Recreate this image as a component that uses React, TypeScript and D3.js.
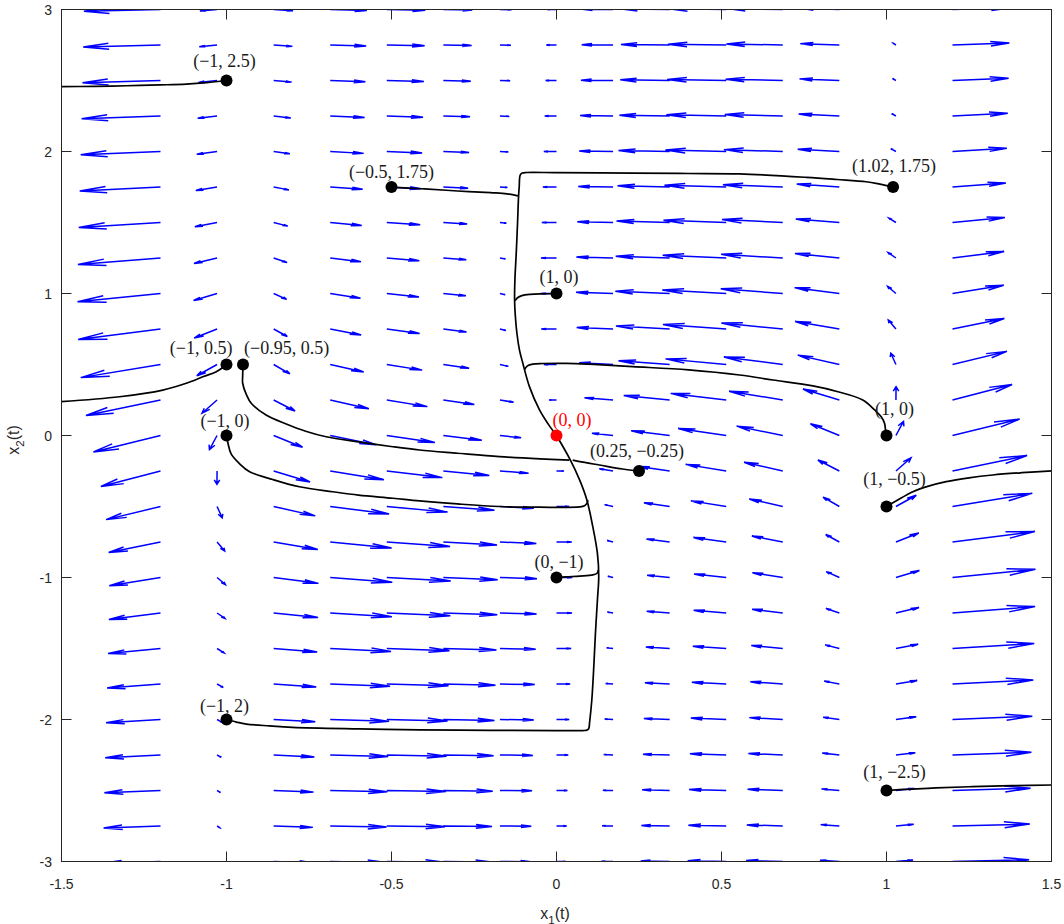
import React from "react";
import * as d3 from "d3";

// ---------- axes ----------
const xDomain = [-1.5, 1.5];
const yDomain = [-3, 3];
const xTicks = [-1.5, -1, -0.5, 0, 0.5, 1, 1.5];
const yTicks = [-3, -2, -1, 0, 1, 2, 3];
const xTickLabels = ["-1.5", "-1", "-0.5", "0", "0.5", "1", "1.5"];
const yTickLabels = ["-3", "-2", "-1", "0", "1", "2", "3"];

// ---------- quiver grid (x1, x2 sample points) ----------
const gridX1 = [-1.2, -1.0286, -0.8571, -0.6857, -0.5143, -0.3429, -0.1714, 0, 0.1714, 0.3429, 0.5143, 0.6857, 0.8571, 1.0286, 1.2];
const gridX2 = [-3, -2.75, -2.5, -2.25, -2, -1.75, -1.5, -1.25, -1, -0.75, -0.5, -0.25, 0, 0.25, 0.5, 0.75, 1, 1.25, 1.5, 1.75, 2, 2.25, 2.5, 2.75, 3];

// system plotted by the quiver: x1' = x1^3 - x1 - a*x2/(1+x2^2), x2' = c*x1/(1+x2^2)
const driftGain = 0.25;
const couplingGain = 0.25;
const arrowScale = 0.385;

// ---------- trajectories ----------
const trajA = [[-1, 2.5], [-1.06, 2.485], [-1.122, 2.475], [-1.2, 2.469], [-1.304, 2.463], [-1.4, 2.459], [-1.51, 2.456]];
const trajB = [[-0.5, 1.75], [-0.476, 1.745], [-0.4, 1.737], [-0.3, 1.722], [-0.2, 1.71], [-0.15, 1.702], [-0.117, 1.687]];
const trajC = [[1.02, 1.75], [0.98, 1.77], [0.9385, 1.787], [0.85, 1.803], [0.757, 1.818], [0.5545, 1.842], [0.4, 1.845], [0.23, 1.848], [0, 1.851], [-0.09, 1.852], [-0.104, 1.848], [-0.11, 1.834], [-0.113, 1.75], [-0.115, 1.682], [-0.118, 1.5], [-0.122, 1.283], [-0.126, 1.1], [-0.127, 0.954], [-0.125, 0.85], [-0.12, 0.72], [-0.112, 0.6], [-0.102, 0.5085], [-0.082, 0.344], [-0.0515, 0.18], [-0.025, 0.08], [0, 0]];
const trajD = [[0, 1], [-0.04, 0.998], [-0.08, 0.994], [-0.105, 0.985], [-0.118, 0.97], [-0.125, 0.95]];
const trajE = [[1, 0], [0.997, 0.04], [0.994, 0.086], [0.984, 0.132], [0.964, 0.18], [0.928, 0.25], [0.85, 0.31], [0.777, 0.349], [0.656, 0.391], [0.555, 0.426], [0.4, 0.462], [0.231, 0.485], [0.1, 0.502], [0.029, 0.508], [-0.04, 0.507], [-0.072, 0.503], [-0.088, 0.49], [-0.097, 0.465]];
const trajF = [[-1, 0.5], [-1.031, 0.449], [-1.07, 0.415], [-1.122, 0.368], [-1.193, 0.32], [-1.324, 0.273], [-1.51, 0.237]];
const trajG = [[-0.95, 0.5], [-0.951, 0.42], [-0.951, 0.368], [-0.94, 0.29], [-0.925, 0.227], [-0.88, 0.144], [-0.819, 0.081], [-0.76, 0.03], [-0.698, -0.009], [-0.6, -0.045], [-0.496, -0.079], [-0.415, -0.102], [-0.3, -0.125], [-0.173, -0.149], [-0.05, -0.165], [0.039, -0.173]];
const trajH = [[-1, 0], [-0.995, -0.06], [-0.986, -0.13], [-0.96, -0.2], [-0.93, -0.255], [-0.86, -0.31], [-0.779, -0.361], [-0.678, -0.396], [-0.6, -0.42], [-0.496, -0.442], [-0.415, -0.461], [-0.3, -0.482], [-0.173, -0.5], [-0.05, -0.505], [0.07, -0.503], [0.085, -0.495], [0.093, -0.475], [0.095, -0.455]];
const trajI = [[0.25, -0.25], [0.2, -0.236], [0.13, -0.208], [0.08, -0.188], [0.049, -0.173]];
const trajJ = [[0, -1], [0.03, -0.995], [0.07, -0.99], [0.11, -0.982], [0.123, -0.97], [0.127, -0.947]];
const trajK = [[-1, -2], [-0.97, -2.018], [-0.94, -2.032], [-0.87, -2.045], [-0.8, -2.055], [-0.6, -2.066], [-0.415, -2.073], [-0.2, -2.076], [0, -2.078], [0.08, -2.078], [0.093, -2.074], [0.098, -2.062], [0.1, -2.027], [0.107, -1.863], [0.113, -1.628], [0.118, -1.393], [0.124, -1.158], [0.128, -0.994], [0.124, -0.83], [0.11, -0.642], [0.092, -0.454], [0.07, -0.313], [0.039, -0.16], [0, 0]];
const trajL = [[1, -0.5], [1.03, -0.46], [1.08, -0.396], [1.13, -0.355], [1.181, -0.325], [1.25, -0.298], [1.322, -0.278], [1.41, -0.262], [1.51, -0.248]];
const trajM = [[1, -2.5], [1.03, -2.495], [1.06, -2.4915], [1.15, -2.482], [1.26, -2.473], [1.38, -2.466], [1.51, -2.461]];
const trajectories = [trajA, trajB, trajC, trajD, trajE, trajF, trajG, trajH, trajI, trajJ, trajK, trajL, trajM];

// ---------- initial points & labels ----------
const pointX = [-1, -0.5, 1.02, 0, -1, -0.95, -1, 0.25, 0, -1, 1, 1, 1, 0];
const pointY = [2.5, 1.75, 1.75, 1, 0.5, 0.5, 0, -0.25, -1, -2, 0, -0.5, -2.5, 0];
const pointLabels = ["(−1, 2.5)", "(−0.5, 1.75)", "(1.02, 1.75)", "(1, 0)", "(−1, 0.5)", "(−0.95, 0.5)", "(−1, 0)", "(0.25, −0.25)", "(0, −1)", "(−1, 2)", "(1, 0)", "(1, −0.5)", "(1, −2.5)", "(0, 0)"];
const labelAnchor = ["middle", "middle", "middle", "middle", "end", "start", "middle", "middle", "middle", "middle", "middle", "middle", "middle", "start"];
const labelDx = [-2, 0, 1, 2.5, 6, 1, -1.5, -2, 2.5, -2, 8, 8, 8, -4];
const labelDy = [-13.5, -9.5, -15.5, -11, -10.5, -10.5, -9, -14, -9.5, -8, -21, -21.5, -12.5, -9.5];

const W = 1064;
const H = 924;
const L = 61.5, R = 1051.5, T = 9.5, B = 861.5;

export default function App() {
  const x = d3.scaleLinear().domain(xDomain).range([L, R]);
  const y = d3.scaleLinear().domain(yDomain).range([B, T]);

  const alpha = 0.33;
  const beta = 0.27;
  const arrows: string[] = [];
  for (const gy of gridX2) {
    for (const gx of gridX1) {
      const d = 1 + gy * gy;
      const u = (gx * gx * gx - gx - (driftGain * gy) / d) * arrowScale;
      const v = ((couplingGain * gx) / d) * arrowScale;
      const tx = gx + u, ty = gy + v;
      const h1x = tx - alpha * (u + beta * v);
      const h1y = ty - alpha * (v - beta * u);
      const h2x = tx - alpha * (u - beta * v);
      const h2y = ty - alpha * (v + beta * u);
      arrows.push(
        `M${x(gx)},${y(gy)}L${x(tx)},${y(ty)}M${x(h1x)},${y(h1y)}L${x(tx)},${y(ty)}L${x(h2x)},${y(h2y)}`
      );
    }
  }

  const linePlain = d3
    .line<number[]>()
    .x((p) => x(p[0]))
    .y((p) => y(p[1]))
    .curve(d3.curveCatmullRom.alpha(0.5));

  const axisColor = "#262626";
  const tickLen = 10;

  return (
    <svg
      width={W}
      height={H}
      style={{ position: "absolute", left: 0, top: 0, background: "#fff" }}
      xmlns="http://www.w3.org/2000/svg"
    >
      <defs>
        <clipPath id="plotClip">
          <rect x={L} y={T} width={R - L} height={B - T} />
        </clipPath>
      </defs>
      <rect x={0} y={0} width={W} height={H} fill="#fff" />

      <g clipPath="url(#plotClip)">
        <path d={arrows.join("")} fill="none" stroke="#0000ff" strokeWidth={1.5} strokeLinejoin="miter" />
        {trajectories.map((t, i) => (
          <path key={i} d={linePlain(t) || ""} fill="none" stroke="#000" strokeWidth={1.7} strokeLinejoin="round" />
        ))}
      </g>

      {/* axes box and ticks */}
      <g stroke={axisColor} strokeWidth={1} fill="none">
        <rect x={L} y={T} width={R - L} height={B - T} />
        {xTicks.map((t, i) => (
          <g key={"xt" + i}>
            <line x1={x(t)} x2={x(t)} y1={B} y2={B - tickLen} />
            <line x1={x(t)} x2={x(t)} y1={T} y2={T + tickLen} />
          </g>
        ))}
        {yTicks.map((t, i) => (
          <g key={"yt" + i}>
            <line x1={L} x2={L + tickLen} y1={y(t)} y2={y(t)} />
            <line x1={R} x2={R - tickLen} y1={y(t)} y2={y(t)} />
          </g>
        ))}
      </g>

      {/* points */}
      {pointX.map((px, i) => (
        <circle
          key={"pt" + i}
          cx={x(px)}
          cy={y(pointY[i])}
          r={6}
          fill={i === pointX.length - 1 ? "#ff0000" : "#000"}
        />
      ))}

      {/* point labels */}
      {pointLabels.map((lab, i) => (
        <text
          key={"lb" + i}
          x={x(pointX[i]) + labelDx[i]}
          y={y(pointY[i]) + labelDy[i]}
          textAnchor={labelAnchor[i] as any}
          fontFamily="'Liberation Serif', 'DejaVu Serif', serif"
          fontSize={18}
          fill={i === pointLabels.length - 1 ? "#ff0000" : "#1a1a1a"}
        >
          {lab}
        </text>
      ))}

      {/* tick labels */}
      <g fontFamily="'Liberation Sans', Arial, sans-serif" fontSize={14} fill={axisColor}>
        {xTicks.map((t, i) => (
          <text key={"xl" + i} x={x(t)} y={889} textAnchor="middle">
            {xTickLabels[i]}
          </text>
        ))}
        {yTicks.map((t, i) => (
          <text key={"yl" + i} x={52} y={y(t) + 5} textAnchor="end">
            {yTickLabels[i]}
          </text>
        ))}
      </g>

      {/* axis labels */}
      <text x={555} y={918.5} textAnchor="middle" fontFamily="'Liberation Sans', Arial, sans-serif" fontSize={16} fill={axisColor}>
        x
        <tspan fontSize={11.5} dy={5}>1</tspan>
        <tspan dy={-5}>(t)</tspan>
      </text>
      <text
        transform="translate(18.5,440) rotate(-90)"
        x={0}
        y={0}
        textAnchor="middle"
        fontFamily="'Liberation Sans', Arial, sans-serif"
        fontSize={16}
        fill={axisColor}
      >
        x
        <tspan fontSize={11.5} dy={5}>2</tspan>
        <tspan dy={-5}>(t)</tspan>
      </text>
    </svg>
  );
}
